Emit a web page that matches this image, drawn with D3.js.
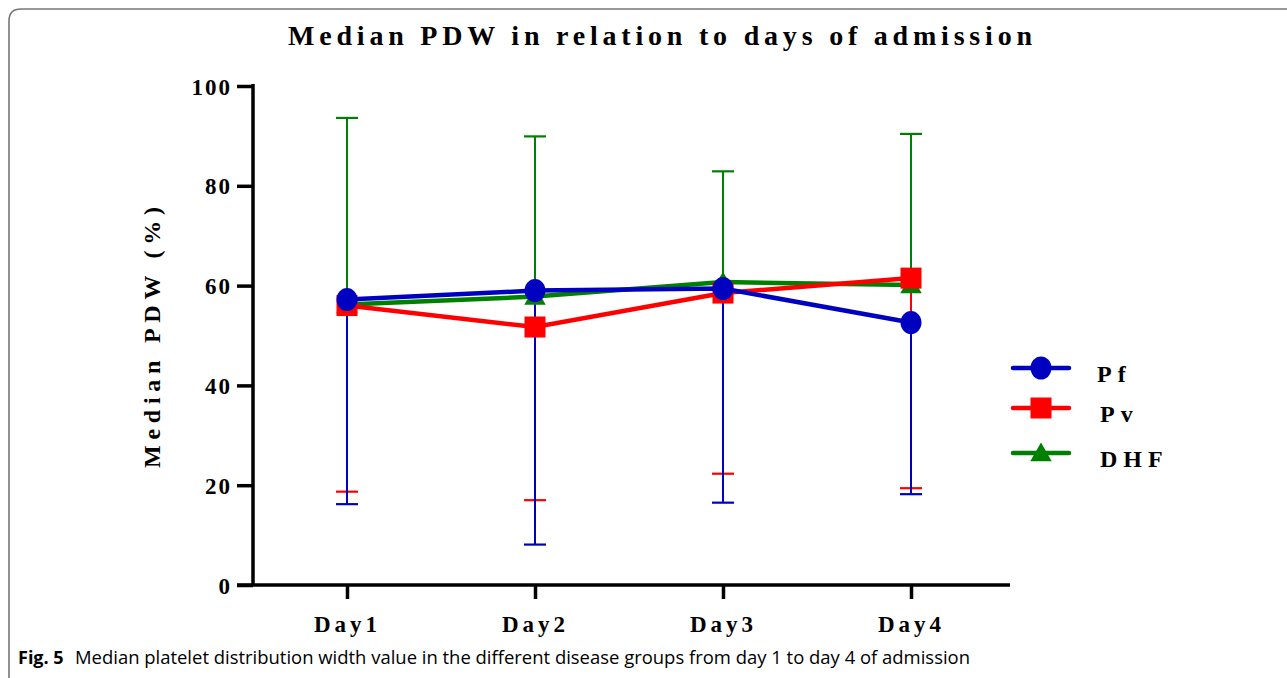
<!DOCTYPE html>
<html>
<head>
<meta charset="utf-8">
<script src="https://cdn.jsdelivr.net/npm/d3@7"></script>
<style>
  body { margin: 0; background: #fff; }
  svg { display: block; }
  .serif { font-family: "Liberation Serif", "DejaVu Serif", serif; font-weight: bold; }
</style>
</head>
<body>
<div id="chart"></div>
<script>
// data
const days = ["Day1", "Day2", "Day3", "Day4"];
const pfMedian = [57.2, 59.0, 59.4, 52.6];
const pvMedian = [56.0, 51.7, 58.5, 61.5];
const dhfMedian = [56.2, 57.8, 60.7, 60.1];
const dhfUpper = [93.6, 89.9, 82.9, 90.4];
const pvLower = [18.7, 17.0, 22.3, 19.4];
const pfLower = [16.2, 8.1, 16.5, 18.2];
const yTicks = [0, 20, 40, 60, 80, 100];

var width = 1287
var height = 678

var svg = d3.select("#chart")
  .append("svg")
    .attr("width", width)
    .attr("height", height)

// frame round the figure
svg.append("path")
  .attr("d", "M9,690 L9,21 Q9,9 21,9 L1290,9")
  .attr("fill", "none")
  .attr("stroke", "#777")
  .attr("stroke-width", 1.6)

var x = d3.scalePoint().domain(days).range([253, 1005]).padding(0.5)
var y = d3.scaleLinear().domain([0, 100]).range([585, 86])

// title
svg.append("text")
  .attr("class", "serif")
  .attr("x", 288).attr("y", 45)
  .attr("textLength", 744).attr("lengthAdjust", "spacing")
  .style("font-size", "28px")
  .text("Median PDW in relation to days of admission")

// y axis
var yAxis = svg.append("g")
  .attr("transform", "translate(253,0)")
  .call(d3.axisLeft(y).tickValues(yTicks).tickSize(16).tickSizeOuter(0).tickPadding(5))
yAxis.select(".domain").remove()
yAxis.selectAll(".tick line").attr("stroke", "#000").attr("stroke-width", 3.5)
yAxis.selectAll(".tick text")
  .attr("class", "serif")
  .style("font-size", "23px")
  .style("letter-spacing", "2px")
  .attr("dy", "0.35em")
svg.append("line")
  .attr("x1", 253).attr("x2", 253).attr("y1", y(100) - 2).attr("y2", y(0))
  .attr("stroke", "#000").attr("stroke-width", 3.5)

// x axis
var xAxis = svg.append("g")
  .attr("transform", "translate(0,585)")
  .call(d3.axisBottom(x).tickSize(14).tickSizeOuter(0).tickPadding(17))
xAxis.select(".domain").remove()
xAxis.selectAll(".tick line").attr("stroke", "#000").attr("stroke-width", 3.5)
xAxis.selectAll(".tick text")
  .attr("class", "serif")
  .style("font-size", "23px")
  .style("letter-spacing", "4px")
svg.append("line")
  .attr("x1", 237).attr("x2", 1010).attr("y1", 585).attr("y2", 585)
  .attr("stroke", "#000").attr("stroke-width", 3.5)

// y axis title
svg.append("text")
  .attr("class", "serif")
  .attr("transform", "translate(160,468) rotate(-90)")
  .attr("textLength", 261).attr("lengthAdjust", "spacing")
  .style("font-size", "24px")
  .text("Median PDW (%)")

const series = [
  { name: "DHF", color: "#008000", median: dhfMedian, lo: dhfMedian, hi: dhfUpper, shape: "tri" },
  { name: "Pv", color: "#ff0000", median: pvMedian, lo: pvLower, hi: pvMedian, shape: "sq" },
  { name: "Pf", color: "#0000c0", median: pfMedian, lo: pfLower, hi: pfMedian, shape: "circ" }
];

// error bars
series.forEach(function(s) {
  var eb = svg.append("g")
  days.forEach(function(d, i) {
    eb.append("line")
      .attr("x1", x(d)).attr("x2", x(d))
      .attr("y1", y(s.lo[i])).attr("y2", y(s.hi[i]))
      .attr("stroke", s.color).attr("stroke-width", 2)
    var capv = s.name == "DHF" ? s.hi[i] : s.lo[i]
    eb.append("line")
      .attr("x1", x(d) - 11).attr("x2", x(d) + 11)
      .attr("y1", y(capv)).attr("y2", y(capv))
      .attr("stroke", s.color).attr("stroke-width", 2.2)
  })
})

function drawMarker(g, shape, cx, cy, color) {
  if (shape == "circ") {
    g.append("ellipse").attr("cx", cx).attr("cy", cy).attr("rx", 10.5).attr("ry", 11.5).attr("fill", color)
  } else if (shape == "sq") {
    g.append("rect").attr("x", cx - 10.5).attr("y", cy - 10.5).attr("width", 21).attr("height", 21).attr("fill", color)
  } else {
    g.append("path").attr("d", d3.symbol(d3.symbolTriangle, 200)()).attr("transform", "translate(" + cx + "," + (cy + 2) + ")").attr("fill", color)
  }
}

// median lines and markers
var line = d3.line().x(function(d) { return x(d.day); }).y(function(d) { return y(d.v); })
series.forEach(function(s) {
  var pts = days.map(function(d, i) { return { day: d, v: s.median[i] }; })
  svg.append("path")
    .datum(pts)
    .attr("d", line)
    .attr("fill", "none")
    .attr("stroke", s.color)
    .attr("stroke-width", 4.5)
  var mg = svg.append("g")
  pts.forEach(function(p) { drawMarker(mg, s.shape, x(p.day), y(p.v), s.color); })
})

// legend
const legendNames = ["Pf", "Pv", "DHF"];
const legendY = [368, 408, 453];
var legend = svg.append("g")
legendNames.forEach(function(n, i) {
  var s = series.find(function(t) { return t.name == n; })
  legend.append("line")
    .attr("x1", 1013).attr("x2", 1069).attr("y1", legendY[i]).attr("y2", legendY[i])
    .attr("stroke", s.color).attr("stroke-width", 4.5).attr("stroke-linecap", "round")
  drawMarker(legend, s.shape, 1041, legendY[i], s.color)
  legend.append("text")
    .attr("class", "serif")
    .attr("x", i == 0 ? 1097 : 1100).attr("y", legendY[i] + 14)
    .style("font-size", "24px")
    .style("letter-spacing", "6px")
    .text(n)
})

// caption
var cap = svg.append("text")
  .attr("x", 18).attr("y", 664)
  .style("font-family", "'Open Sans', 'Noto Sans', sans-serif")
  .style("font-size", "18px")
cap.append("tspan").style("font-weight", "bold").text("Fig. 5")
svg.append("text")
  .attr("x", 75).attr("y", 664)
  .attr("textLength", 895).attr("lengthAdjust", "spacingAndGlyphs")
  .style("font-family", "'Open Sans', 'Noto Sans', sans-serif")
  .style("font-size", "18px")
  .text("Median platelet distribution width value in the different disease groups from day 1 to day 4 of admission")
</script>
</body>
</html>
